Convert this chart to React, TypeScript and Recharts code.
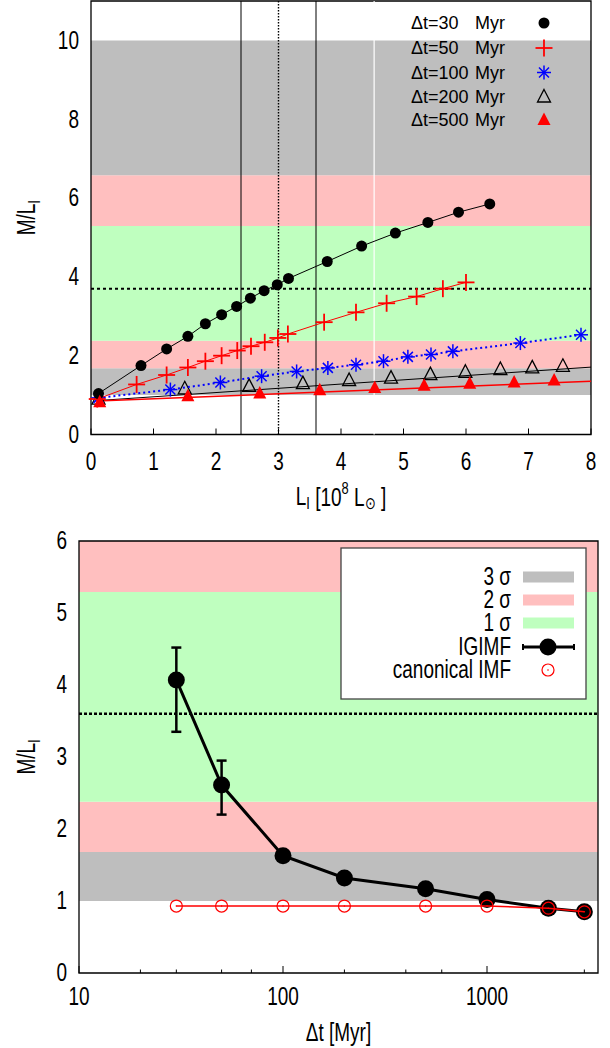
import React from "react";
import {
  ComposedChart,
  Scatter,
  XAxis,
  YAxis,
  ReferenceArea,
  ReferenceLine,
  ErrorBar,
  Label,
} from "recharts";

const FONT = "'Liberation Sans', Helvetica, Arial, sans-serif";
const SQ = 0.76; // gnuplot-ish condensed text

const GRAY = "#bebebe";
const PINK = "#ffbfbf";
const GREEN = "#bfffbf";

// confidence bands on M/L_I, same in both panels
const bandEdges = [1.0, 1.68, 2.38, 5.29, 6.58, 10.0];
const bandColors = [GRAY, PINK, GREEN, PINK, GRAY];

// ---- top panel: M/L_I against L_I [10^8 Lsun]
const lum30 = [0.12, 0.8, 1.21, 1.55, 1.83, 2.09, 2.33, 2.55, 2.77, 2.98, 3.16, 3.78, 4.33, 4.87, 5.39, 5.88, 6.38];
const ml30 = [1.04, 1.75, 2.17, 2.49, 2.81, 3.04, 3.25, 3.46, 3.65, 3.8, 3.96, 4.39, 4.78, 5.11, 5.38, 5.64, 5.85];

const lum50 = [0.1, 0.73, 1.21, 1.55, 1.83, 2.09, 2.34, 2.56, 2.78, 2.99, 3.15, 3.73, 4.24, 4.73, 5.21, 5.63, 6.0];
const ml50 = [0.9, 1.27, 1.51, 1.7, 1.86, 2.0, 2.13, 2.24, 2.34, 2.45, 2.55, 2.85, 3.1, 3.33, 3.5, 3.7, 3.86];

const lum100 = [0.12, 1.27, 2.07, 2.73, 3.29, 3.79, 4.24, 4.68, 5.07, 5.44, 5.79, 6.87, 7.84];
const ml100 = [0.93, 1.14, 1.32, 1.48, 1.6, 1.69, 1.77, 1.86, 1.97, 2.03, 2.11, 2.32, 2.53];

const lum200 = [0.12, 1.5, 2.53, 3.39, 4.13, 4.8, 5.43, 5.99, 6.55, 7.06, 7.55];
const ml200 = [0.9, 1.16, 1.22, 1.29, 1.37, 1.43, 1.52, 1.58, 1.65, 1.69, 1.73];

const lum500 = [0.14, 1.55, 2.7, 3.66, 4.54, 5.33, 6.06, 6.77, 7.41];
const ml500 = [0.82, 0.97, 1.04, 1.12, 1.18, 1.24, 1.29, 1.32, 1.37];

// straight fits drawn through the 200 and 500 Myr sets
const fitLum = [0.1, 8];
const fit200 = [0.86, 1.71];
const fit500 = [0.85, 1.35];

const topXTicks = [0, 1, 2, 3, 4, 5, 6, 7, 8];
const topYTicks = [0, 2, 4, 6, 8, 10];
const solidLum = [2.4, 3.6];
const dottedLum = 3.0;
const whiteLum = 4.53;
const topObserved = 3.7;

// ---- bottom panel: M/L_I against Δt
const dtMyr = [30, 50, 100, 200, 500, 1000, 2000, 3000];
const mlIgimf = [4.07, 2.61, 1.63, 1.32, 1.17, 1.02, 0.9, 0.85];
const errDown = [0.72, 0.41, 0.05, 0.02, 0.02, 0.02, 0.02, 0.02];
const errUp = [0.45, 0.34, 0.05, 0.02, 0.02, 0.02, 0.02, 0.02];
const mlCanonical = [0.93, 0.93, 0.93, 0.93, 0.93, 0.93, 0.9, 0.85];

const bottomXTicks = [10, 20, 30, 40, 50, 60, 70, 80, 90, 100, 200, 300, 400, 500, 600, 700, 800, 900, 1000, 2000, 3000];
const bottomMajor = [10, 100, 1000];
const bottomYTicks = [0, 1, 2, 3, 4, 5, 6];
const bottomObserved = 3.6;

const zip = (xs: number[], ys: number[]) => xs.map((x, i) => ({ x, y: ys[i] }));

// ---- markers
const BlackDot = ({ cx, cy }: any) => <circle cx={cx} cy={cy} r={5.5} fill="#000" />;
const RedPlus = ({ cx, cy }: any) => (
  <g stroke="#f00" strokeWidth={1.8}>
    <line x1={cx - 8.5} x2={cx + 8.5} y1={cy} y2={cy} />
    <line x1={cx} x2={cx} y1={cy - 8.5} y2={cy + 8.5} />
  </g>
);
const BlueStar = ({ cx, cy }: any) => {
  const s = 7;
  const d = 5;
  return (
    <g stroke="#00f" strokeWidth={1.5}>
      <line x1={cx} x2={cx} y1={cy - s} y2={cy + s} />
      <line x1={cx - d} x2={cx + d} y1={cy - d} y2={cy + d} />
      <line x1={cx - d} x2={cx + d} y1={cy + d} y2={cy - d} />
      <line x1={cx - s} x2={cx + s} y1={cy} y2={cy} />
    </g>
  );
};
const OpenTri = ({ cx, cy }: any) => (
  <path d={`M${cx},${cy - 7.5}L${cx + 6.5},${cy + 5}L${cx - 6.5},${cy + 5}Z`} fill="none" stroke="#000" strokeWidth={1.3} />
);
const RedTri = ({ cx, cy }: any) => (
  <path d={`M${cx},${cy - 7.5}L${cx + 6.5},${cy + 5}L${cx - 6.5},${cy + 5}Z`} fill="#f00" />
);
const NoMark = () => <g />;
const BigDot = ({ cx, cy }: any) => <circle cx={cx} cy={cy} r={8.5} fill="#000" />;
const RedRing = ({ cx, cy }: any) => (
  <g>
    <circle cx={cx} cy={cy} r={6} fill="none" stroke="#f00" strokeWidth={1.2} />
    <circle cx={cx} cy={cy} r={0.8} fill="#f00" />
  </g>
);

// ---- ticks and labels
const condensed = (x: number, y: number, rot = false) =>
  `translate(${x},${y})${rot ? " rotate(-90)" : ""} scale(${SQ},1)`;

const TopXTick = ({ x, y, payload }: any) => (
  <g>
    <line x1={x} x2={x} y1={y} y2={y - 6} stroke="#000" />
    <text transform={condensed(x, y + 27)} textAnchor="middle" dominantBaseline="central" fontSize={25} fontFamily={FONT}>
      {payload.value}
    </text>
  </g>
);
const TopMirrorTick = ({ x, y }: any) => <line x1={x} x2={x} y1={y} y2={y + 6} stroke="#000" />;
const LeftTick = ({ x, y, payload }: any) => (
  <text transform={condensed(x - 12, y)} textAnchor="end" dominantBaseline="central" fontSize={25} fontFamily={FONT}>
    {payload.value}
  </text>
);
const LogTick = ({ x, y, payload }: any) => {
  const major = bottomMajor.includes(payload.value);
  return (
    <g>
      <line x1={x} x2={x} y1={y} y2={y - (major ? 7 : 3.5)} stroke="#000" />
      {major && (
        <text transform={condensed(x, y + 24)} textAnchor="middle" dominantBaseline="central" fontSize={25} fontFamily={FONT}>
          {payload.value}
        </text>
      )}
    </g>
  );
};

const MLLabel = ({ viewBox }: any) => (
  <text transform={condensed(27, viewBox.y + viewBox.height / 2, true)} textAnchor="middle" dominantBaseline="central" fontSize={25} fontFamily={FONT}>
    M/L<tspan fontSize={17} dy={6}>I</tspan>
  </text>
);
const LumLabel = ({ viewBox }: any) => (
  <text transform={condensed(viewBox.x + viewBox.width / 2, viewBox.y + 62)} textAnchor="middle" dominantBaseline="central" fontSize={25} fontFamily={FONT}>
    L<tspan fontSize={17} dy={6}>I</tspan>
    <tspan dy={-6}> [10</tspan>
    <tspan fontSize={17} dy={-9}>8</tspan>
    <tspan dy={9}> L</tspan>
    <tspan fontSize={17} dy={6}>⊙</tspan>
    <tspan dy={-6}> ]</tspan>
  </text>
);
const DtLabel = ({ viewBox }: any) => (
  <text transform={condensed(viewBox.x + viewBox.width / 2, viewBox.y + 60)} textAnchor="middle" dominantBaseline="central" fontSize={25} fontFamily={FONT}>
    Δt [Myr]
  </text>
);

const bands = (x1: number, x2: number) =>
  bandColors.map((c, i) => (
    <ReferenceArea key={"b" + i} x1={x1} x2={x2} y1={bandEdges[i]} y2={bandEdges[i + 1]} ifOverflow="hidden" fill={c} fillOpacity={1} stroke="none" />
  ));

const topLegend = [
  { label: "Δt=30", Mark: BlackDot },
  { label: "Δt=50", Mark: RedPlus },
  { label: "Δt=100", Mark: BlueStar },
  { label: "Δt=200", Mark: OpenTri },
  { label: "Δt=500", Mark: RedTri },
];
const topLegendRows = [23, 48, 72.5, 97, 120];

function TopPanel() {
  return (
    <div style={{ position: "absolute", left: 0, top: 0, width: 610, height: 518 }}>
      <ComposedChart width={610} height={518} margin={{ top: 1, right: 19, bottom: 0, left: 0 }}>
        <XAxis dataKey="x" type="number" domain={[0, 8]} ticks={topXTicks} height={83.5} axisLine={false} tickLine={false} tickSize={0} tickMargin={0} tick={(p: any) => <TopXTick {...p} />}>
          <Label content={(p: any) => <LumLabel {...p} />} />
        </XAxis>
        <XAxis xAxisId="top" orientation="top" dataKey="x" type="number" domain={[0, 8]} ticks={topXTicks} height={0} axisLine={false} tickLine={false} tickSize={0} tickMargin={0} tick={(p: any) => <TopMirrorTick {...p} />} />
        <YAxis dataKey="y" type="number" domain={[0, 11]} ticks={topYTicks} width={91} axisLine={false} tickLine={false} tickSize={0} tickMargin={0} tick={(p: any) => <LeftTick {...p} />}>
          <Label content={(p: any) => <MLLabel {...p} />} />
        </YAxis>
        {bands(0, 8)}
        <ReferenceLine x={whiteLum} stroke="#fff" strokeWidth={1.2} />
        {solidLum.map((v) => (
          <ReferenceLine key={v} x={v} stroke="#000" strokeWidth={1} />
        ))}
        <ReferenceLine x={dottedLum} stroke="#000" strokeWidth={1.4} strokeDasharray="1.5 1.5" />
        <ReferenceLine y={topObserved} stroke="#000" strokeWidth={2} strokeDasharray="3 3" />
        <Scatter data={zip(fitLum, fit200)} isAnimationActive={false} line={{ stroke: "#000", strokeWidth: 1 }} shape={NoMark} />
        <Scatter data={zip(fitLum, fit500)} isAnimationActive={false} line={{ stroke: "#f00", strokeWidth: 1.5 }} shape={NoMark} />
        <Scatter data={zip(lum200, ml200)} isAnimationActive={false} shape={OpenTri} />
        <Scatter data={zip(lum100, ml100)} isAnimationActive={false} line={{ stroke: "#00f", strokeWidth: 2, strokeDasharray: "2 3" }} shape={BlueStar} />
        <Scatter data={zip(lum50, ml50)} isAnimationActive={false} line={{ stroke: "#f00", strokeWidth: 1 }} shape={RedPlus} />
        <Scatter data={zip(lum30, ml30)} isAnimationActive={false} line={{ stroke: "#000", strokeWidth: 1 }} shape={BlackDot} />
        <Scatter data={zip(lum500, ml500)} isAnimationActive={false} shape={RedTri} />
        <ReferenceArea x1={0} x2={8} y1={0} y2={11} fill="none" stroke="#000" strokeWidth={1.3} />
      </ComposedChart>
      <svg width={610} height={518} style={{ position: "absolute", left: 0, top: 0, pointerEvents: "none" }}>
        {topLegend.map(({ label, Mark }, i) => (
          <g key={label} fontFamily={FONT} fontSize={18}>
            <text x={411} y={topLegendRows[i]} dominantBaseline="central">{label}</text>
            <text x={475} y={topLegendRows[i]} dominantBaseline="central">Myr</text>
            <Mark cx={544} cy={topLegendRows[i]} />
          </g>
        ))}
      </svg>
    </div>
  );
}

const bottomLegendRows = [577, 600, 623, 647, 670];
const swatches = [
  { label: "3 σ", color: GRAY },
  { label: "2 σ", color: PINK },
  { label: "1 σ", color: GREEN },
];

function BottomPanel() {
  const igimf = dtMyr.map((x, i) => ({ x, y: mlIgimf[i], err: [errDown[i], errUp[i]] }));
  return (
    <div style={{ position: "absolute", left: 0, top: 520, width: 610, height: 528 }}>
      <ComposedChart width={610} height={528} margin={{ top: 21, right: 12, bottom: 0, left: 0 }}>
        <XAxis dataKey="x" type="number" scale="log" domain={[10, 3500]} allowDataOverflow ticks={bottomXTicks} height={75} axisLine={false} tickLine={false} tickSize={0} tickMargin={0} tick={(p: any) => <LogTick {...p} />}>
          <Label content={(p: any) => <DtLabel {...p} />} />
        </XAxis>
        <YAxis dataKey="y" type="number" domain={[0, 6]} allowDataOverflow ticks={bottomYTicks} width={79} axisLine={false} tickLine={false} tickSize={0} tickMargin={0} tick={(p: any) => <LeftTick {...p} />}>
          <Label content={(p: any) => <MLLabel {...p} />} />
        </YAxis>
        {bands(10, 3500)}
        <ReferenceLine y={bottomObserved} stroke="#000" strokeWidth={2.5} strokeDasharray="3 2" />
        <Scatter data={igimf} isAnimationActive={false} line={{ stroke: "#000", strokeWidth: 3 }} shape={BigDot}>
          <ErrorBar dataKey="err" direction="y" width={5} stroke="#000" strokeWidth={2.5} />
        </Scatter>
        <Scatter data={zip(dtMyr, mlCanonical)} isAnimationActive={false} line={{ stroke: "#f00", strokeWidth: 1.5 }} shape={RedRing} />
        <ReferenceArea x1={10} x2={3500} y1={0} y2={6} fill="none" stroke="#000" strokeWidth={1.3} />
      </ComposedChart>
      <svg width={610} height={528} style={{ position: "absolute", left: 0, top: 0, pointerEvents: "none" }}>
        <g transform="translate(0,-520)" fontFamily={FONT} fontSize={25}>
          <rect x={341} y={548} width={245} height={151} fill="#fff" stroke="#444" strokeWidth={1.3} />
          {swatches.map((s, i) => (
            <g key={s.label}>
              <text transform={condensed(511, bottomLegendRows[i])} textAnchor="end" dominantBaseline="central">{s.label}</text>
              <rect x={523} y={bottomLegendRows[i] - 5.5} width={51} height={11} fill={s.color} />
            </g>
          ))}
          <text transform={condensed(511, bottomLegendRows[3])} textAnchor="end" dominantBaseline="central">IGIMF</text>
          <g stroke="#000" strokeWidth={3}>
            <line x1={523} x2={574} y1={bottomLegendRows[3]} y2={bottomLegendRows[3]} />
            <line x1={523} x2={523} y1={bottomLegendRows[3] - 3} y2={bottomLegendRows[3] + 3} strokeWidth={2} />
            <line x1={574} x2={574} y1={bottomLegendRows[3] - 3} y2={bottomLegendRows[3] + 3} strokeWidth={2} />
          </g>
          <BigDot cx={548} cy={bottomLegendRows[3]} />
          <text transform={condensed(511, bottomLegendRows[4])} textAnchor="end" dominantBaseline="central">canonical IMF</text>
          <RedRing cx={548} cy={bottomLegendRows[4]} />
        </g>
      </svg>
    </div>
  );
}

export default function App() {
  return (
    <div style={{ position: "absolute", left: 0, top: 0, width: 610, height: 1048, background: "#fff" }}>
      <TopPanel />
      <BottomPanel />
    </div>
  );
}
